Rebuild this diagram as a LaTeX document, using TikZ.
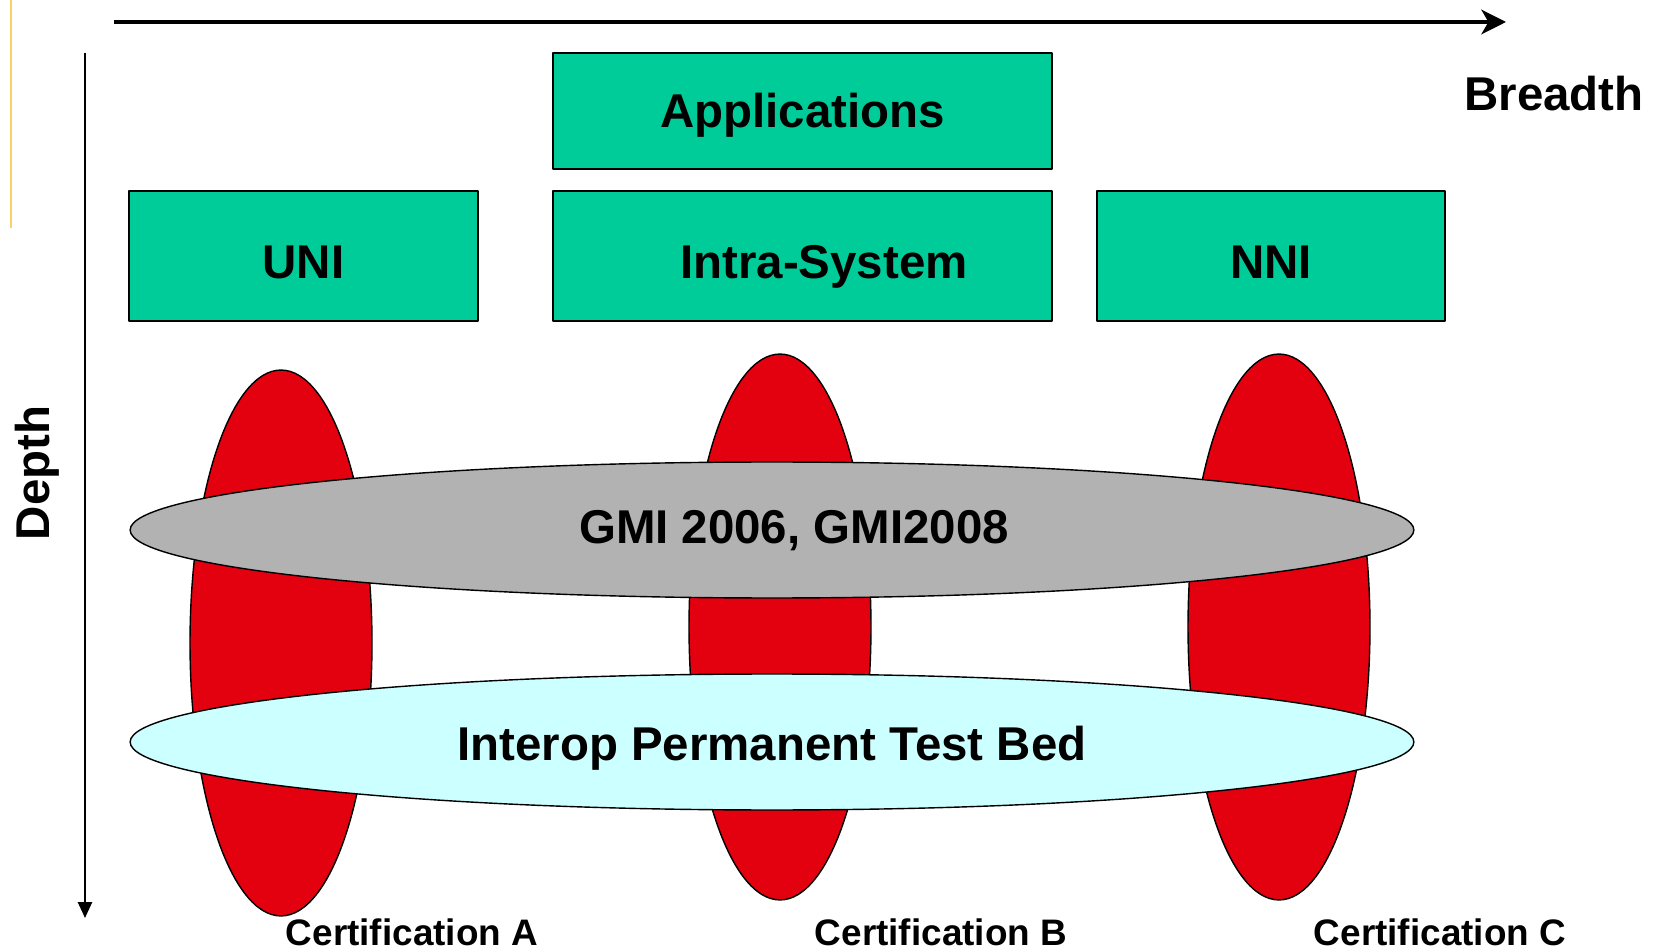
\documentclass[tikz,border=0pt]{standalone}
\usepackage{fontspec}
\setmainfont{Liberation Sans}
\usetikzlibrary{shapes.geometric,arrows.meta}
\definecolor{layergreen}{HTML}{00CC99}
\definecolor{certred}{HTML}{E3000F}
\definecolor{gmigray}{HTML}{B2B2B2}
\definecolor{bedcyan}{HTML}{CCFFFF}
\definecolor{markyellow}{HTML}{F8D468}
\begin{document}
\begin{tikzpicture}[x=0.02cm, y=-0.02cm, line join=round,
	bigtext/.style={font=\bfseries\fontsize{27}{30}\selectfont, text height=25.6pt, text depth=0pt},
	smalltext/.style={font=\bfseries\fontsize{21}{24}\selectfont},
	layer/.style={draw=black, fill=layergreen, line width=1.1pt, inner sep=0pt, bigtext},
	cert/.style={ellipse, draw=black, fill=certred, line width=0.8pt, inner sep=0pt, minimum width=3.64cm, minimum height=10.92cm},
	band/.style={ellipse, draw=black, line width=0.8pt, inner sep=0pt, minimum width=25.68cm, minimum height=2.72cm}]
	\useasboundingbox (0,0) rectangle (1661,949);
	% axes
	\draw[markyellow, line width=1.7pt] (11,0)--(11,228);
	\coordinate (bx0) at (114,22); \coordinate (bx1) at (1506,22);
	\coordinate (dy0) at (85,53); \coordinate (dy1) at (85,918);
	\draw[line width=2.2pt, -{Stealth[length=14pt, width=14pt, inset=4pt]}] (bx0)--(bx1);
	\draw[line width=1.1pt, -{Triangle[length=9pt, width=8pt]}] (dy0)--(dy1);
	\node[bigtext] (breadth) at (1554,88) {Breadth};
	\node[bigtext, rotate=90] (depth) at (27,473) {Depth};
	% layers
	\node[layer, text height=19.3pt, minimum width=9.98cm, minimum height=2.32cm] (apps) at (802.5,111) {Applications};
	\node[layer, minimum width=6.98cm, minimum height=2.6cm] (uni) at (303.5,256) {UNI};
	\node[layer, minimum width=9.98cm, minimum height=2.6cm] (intra) at (802.5,256) {};
	\node[bigtext] (intratext) at (824,256) {Intra-System};
	\node[layer, minimum width=6.96cm, minimum height=2.6cm] (nni) at (1271,256) {NNI};
	% certifications
	\foreach \n/\x/\y/\t in {A/281/643/412, B/780/627/941, C/1279/627/1440}
	{
		\node[cert] (c\n) at (\x,\y) {};
		\node[smalltext] (l\n) at (\t,932) {Certification \n};
	}
	% bands
	\node[band, fill=gmigray] (gmi) at (772,530) {};
	\node[bigtext] (gmitext) at (794,521) {GMI 2006, GMI2008};
	\node[band, fill=bedcyan] (bed) at (772,742) {};
	\node[bigtext] (bedtext) at (772,738) {Interop Permanent Test Bed};
\end{tikzpicture}
\end{document}
